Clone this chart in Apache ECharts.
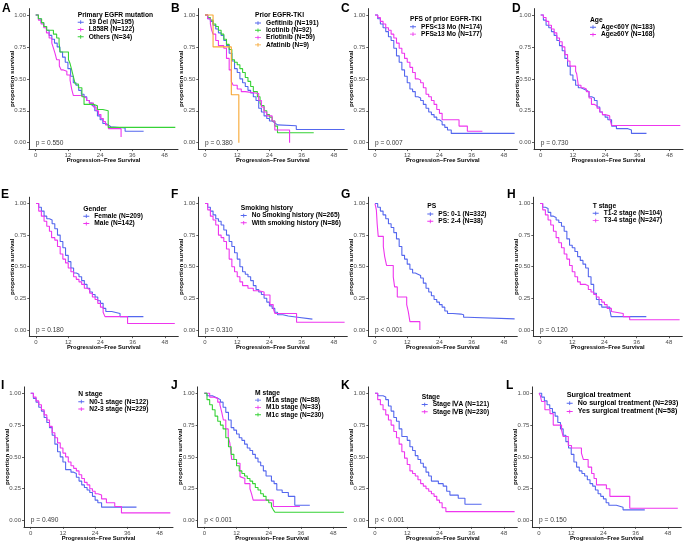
<!DOCTYPE html>
<html><head><meta charset="utf-8">
<script src="https://cdn.jsdelivr.net/npm/echarts@6/dist/echarts.min.js"></script>
<style>html,body{margin:0;padding:0;background:#fff}#c{width:685px;height:543px}</style>
</head><body><div id="c"></div>
<script>
// ---- tick labels ----
const xTicks = [0, 12, 24, 36, 48];
const yTicks = [0, 0.25, 0.5, 0.75, 1];

// ---- curves: [months, proportion surviving] ----
const A_del19 = [[0,1],[1,0.97],[2,0.94],[3,0.91],[4,0.88],[5,0.84],[6,0.81],[7,0.78],[8,0.75],[9,0.71],[10,0.67],[11,0.63],[12,0.58],[13,0.52],[14,0.47],[15,0.45],[16,0.41],[17,0.38],[18,0.36],[19,0.33],[20,0.31],[21,0.29],[22,0.25],[23,0.21],[24,0.18],[25,0.15],[26,0.14],[27,0.125],[28,0.115],[33.3,0.09],[40.2,0.09]];
const A_l858r = [[0,1],[1,0.96],[2,0.93],[3,0.90],[4,0.86],[5,0.82],[6,0.78],[6.6,0.74],[7.2,0.70],[7.8,0.65],[8.8,0.60],[9.5,0.57],[10.3,0.56],[11.6,0.53],[12.8,0.49],[13.4,0.42],[14,0.37],[17.2,0.36],[18,0.35],[19,0.33],[20,0.31],[21.5,0.28],[22.5,0.25],[23.4,0.22],[24.3,0.19],[25.2,0.165],[26,0.14],[27.1,0.11],[31.8,0.045]];
const A_others = [[0,1],[1,0.97],[2.2,0.94],[3,0.91],[4.1,0.88],[6.6,0.85],[7.8,0.82],[8.7,0.78],[9.1,0.71],[12.2,0.65],[12.8,0.62],[13.4,0.57],[14,0.52],[14.7,0.46],[15.9,0.43],[17.2,0.36],[18,0.30],[21.5,0.29],[23,0.26],[25,0.25],[27,0.12],[52,0.12]];

const B_gef = [[0,1],[1,0.97],[2,0.95],[3,0.92],[4,0.89],[5,0.86],[6,0.84],[7,0.80],[8,0.76],[9,0.70],[10,0.64],[11,0.58],[12,0.55],[13,0.50],[14,0.47],[15,0.44],[16,0.41],[17,0.39],[18,0.36],[19,0.33],[20,0.27],[21,0.24],[22,0.21],[23,0.19],[24,0.17],[25,0.155],[26,0.14],[27,0.133],[34,0.104],[52,0.104]];
const B_ico = [[0,1],[1,0.98],[2,0.96],[3,0.93],[4,0.91],[5,0.88],[6,0.85],[7,0.81],[8,0.77],[9,0.73],[10,0.65],[11,0.63],[12,0.61],[13,0.58],[14,0.55],[15,0.51],[16,0.48],[17,0.44],[18,0.40],[19.5,0.36],[20.5,0.31],[21,0.29],[22,0.25],[23,0.22],[24,0.20],[25,0.17],[26,0.13],[27,0.078],[40.5,0.078]];
const B_erl = [[0,1],[1,0.97],[2,0.93],[2.5,0.88],[3,0.85],[4,0.80],[5,0.76],[7,0.74],[8,0.66],[9,0.57],[9.8,0.48],[10.5,0.45],[12,0.42],[13.5,0.40],[15,0.385],[20,0.33],[21,0.28],[22,0.24],[23,0.21],[25,0.17],[26,0.10],[31.5,0]];
const B_afa = [[0,1],[3,0.75],[9.8,0.375],[12.6,0]];

const C_lt13 = [[0,1],[1,0.97],[2,0.93],[3,0.90],[4,0.87],[5,0.83],[6,0.80],[7,0.74],[8,0.68],[9,0.63],[10,0.57],[11,0.52],[12,0.47],[13,0.42],[14,0.40],[15,0.36],[16,0.35],[17,0.33],[18,0.30],[19,0.27],[20,0.24],[21,0.22],[22,0.20],[23,0.18],[24,0.165],[25,0.14],[26,0.12],[27,0.10],[28.4,0.073],[52,0.073]];
const C_ge13 = [[0,1],[1,0.98],[2,0.95],[3,0.93],[4,0.90],[5,0.88],[6,0.85],[7,0.82],[8,0.78],[9,0.74],[10,0.70],[11,0.66],[12,0.63],[13,0.59],[14,0.55],[15,0.50],[16,0.49],[17,0.47],[18,0.43],[19,0.38],[20,0.36],[21,0.33],[22,0.30],[23,0.26],[24,0.23],[25,0.18],[31.3,0.13],[34.4,0.09],[40,0.09]];

const D_lt60 = [[0,1],[1,0.96],[2,0.92],[3,0.90],[4,0.87],[5,0.84],[6,0.80],[7,0.76],[8,0.72],[9,0.66],[10,0.60],[11,0.53],[12,0.49],[13,0.45],[14,0.43],[15,0.42],[16,0.41],[17,0.40],[18,0.36],[19,0.35],[20,0.33],[21,0.28],[22,0.24],[23,0.22],[24,0.20],[25,0.18],[26.4,0.13],[28.2,0.11],[32.5,0.10],[33.8,0.073],[39.4,0.073]];
const D_ge60 = [[0,1],[1,0.98],[2,0.95],[3,0.92],[4,0.89],[5,0.86],[6,0.82],[7,0.79],[8,0.75],[9,0.69],[10,0.64],[10.9,0.60],[13,0.56],[13.4,0.54],[14,0.45],[15,0.43],[16,0.42],[17,0.40],[18,0.35],[18.9,0.30],[20,0.29],[21,0.27],[22,0.24],[23,0.22],[24,0.21],[25.7,0.19],[26.4,0.135],[52,0.135]];

const E_female = [[0,1],[1,0.97],[2,0.94],[3,0.90],[4,0.88],[5,0.87],[6,0.84],[7,0.80],[8,0.75],[9,0.70],[10,0.65],[11,0.59],[12,0.54],[13,0.49],[14,0.45],[15,0.44],[16,0.42],[17,0.39],[18,0.36],[19,0.33],[20,0.30],[21,0.28],[22,0.26],[23,0.23],[24,0.21],[25,0.17],[26,0.145],[28.2,0.13],[31.3,0.105],[40,0.105]];
const E_male = [[0,1],[1,0.94],[2,0.90],[3,0.86],[4,0.82],[5,0.78],[5.8,0.73],[7,0.71],[8,0.66],[9,0.60],[10,0.56],[11,0.53],[12,0.49],[13,0.46],[14,0.42],[15,0.40],[16,0.38],[17,0.36],[18,0.33],[19,0.32],[20,0.29],[21,0.26],[22,0.24],[23,0.21],[24,0.18],[25,0.14],[25.7,0.105],[34.1,0.05],[51.7,0.05]];

const F_no = [[0,1],[1,0.97],[2,0.94],[3,0.91],[4,0.88],[5,0.86],[6,0.83],[7,0.79],[8,0.75],[9,0.70],[10,0.66],[11,0.61],[12,0.56],[13,0.50],[14,0.46],[15,0.44],[16,0.42],[17,0.39],[18,0.35],[19,0.32],[20,0.30],[21,0.28],[22,0.25],[23,0.22],[24,0.19],[25,0.17],[26,0.14],[27,0.12],[29,0.11],[31,0.10],[34.5,0.085],[40,0.085]];
const F_with = [[0,1],[1,0.95],[2,0.90],[3,0.87],[4,0.83],[5,0.75],[6,0.73],[7,0.70],[8,0.64],[9,0.56],[10,0.50],[11,0.46],[12,0.42],[13,0.38],[14,0.35],[16,0.33],[18,0.31],[20,0.30],[22,0.276],[24.2,0.20],[25.4,0.17],[26,0.13],[34.1,0.06],[52,0.06]];

const G_01 = [[0,1],[1,0.97],[2,0.94],[3,0.91],[4,0.88],[5,0.84],[6,0.81],[7,0.77],[8,0.72],[9,0.66],[10,0.59],[11,0.56],[12,0.52],[13,0.48],[14,0.45],[15,0.44],[16,0.43],[17,0.41],[18,0.37],[19,0.33],[20,0.30],[21,0.27],[22,0.24],[23,0.22],[24,0.20],[25,0.18],[26,0.15],[27,0.13],[29,0.125],[32,0.12],[33,0.10],[34.4,0.087],[52,0.087]];
const G_24 = [[0,1],[0.5,0.95],[0.8,0.84],[1.2,0.74],[3.1,0.66],[3.6,0.58],[4.3,0.51],[6.8,0.42],[7.3,0.34],[8.3,0.26],[11.8,0.2],[12.4,0.145],[13,0.065],[16.7,0]];

const H_12 = [[0,1],[1,0.97],[2,0.96],[3,0.93],[4,0.90],[5,0.89],[6,0.87],[7,0.85],[8,0.82],[9,0.78],[10,0.72],[11,0.67],[12,0.65],[13,0.62],[14,0.58],[15,0.55],[16,0.52],[17,0.49],[18,0.42],[19,0.36],[20,0.29],[21,0.24],[22,0.20],[23,0.18],[26,0.16],[26.5,0.105],[39.6,0.105]];
const H_34 = [[0,1],[1,0.95],[2,0.91],[3,0.87],[4,0.83],[5,0.78],[6,0.73],[7,0.69],[8,0.65],[9,0.60],[10,0.56],[11,0.51],[12,0.46],[13,0.42],[14,0.38],[15,0.36],[17,0.35],[18,0.32],[19,0.30],[20,0.28],[21,0.26],[22,0.24],[23,0.22],[24,0.20],[25,0.17],[26.6,0.145],[27.2,0.13],[31,0.105],[33.4,0.08],[52,0.08]];

const I_01 = [[0,1],[1,0.96],[2,0.93],[3,0.89],[4,0.86],[5,0.81],[6,0.77],[7,0.73],[8,0.67],[9,0.60],[10,0.54],[11,0.50],[12,0.46],[13,0.40],[15,0.38],[16,0.37],[17,0.34],[18,0.31],[19,0.28],[20,0.26],[21,0.24],[22,0.22],[23,0.19],[24,0.16],[25,0.14],[26.4,0.105],[39.4,0.105]];
const I_23 = [[0,1],[1,0.97],[2,0.94],[3,0.91],[4,0.87],[5,0.83],[6,0.79],[7,0.74],[8,0.69],[9,0.65],[10,0.61],[11,0.57],[12,0.53],[13,0.50],[14,0.46],[15,0.43],[16,0.41],[17,0.39],[18,0.36],[19,0.33],[20,0.30],[21,0.28],[22,0.25],[23,0.23],[24,0.21],[25,0.20],[26.4,0.17],[28.2,0.14],[31.3,0.11],[33.8,0.06],[52,0.06]];

const J_1a = [[0,1],[1,0.98],[3,0.97],[4,0.96],[5,0.95],[6,0.93],[7,0.89],[8,0.85],[9,0.79],[10,0.73],[11,0.71],[12,0.68],[13,0.65],[14,0.63],[15,0.60],[16,0.57],[17,0.55],[18,0.52],[19,0.49],[20,0.46],[21,0.43],[22,0.39],[23,0.35],[25,0.31],[26,0.29],[27,0.24],[29,0.22],[31.3,0.19],[33.7,0.12],[39.3,0.12]];
const J_1b = [[0,1],[2,0.97],[3.3,0.96],[5,0.93],[5.8,0.91],[6.5,0.85],[7.1,0.79],[8,0.72],[8.9,0.66],[9.5,0.61],[10.2,0.48],[12,0.45],[13.3,0.345],[14,0.33],[15.1,0.29],[17,0.25],[17.6,0.21],[18.2,0.16],[25.7,0.11],[35.6,0.11]];
const J_1c = [[0,1],[1,0.95],[2,0.91],[3,0.87],[4,0.82],[5,0.78],[6,0.75],[7,0.72],[8,0.65],[9,0.58],[10,0.52],[11,0.48],[12,0.43],[13,0.39],[14,0.37],[15,0.35],[16,0.33],[17,0.31],[18,0.29],[19,0.26],[20,0.24],[21,0.21],[22,0.19],[23,0.16],[24,0.14],[25,0.11],[25.7,0.084],[26.3,0.065],[52,0.065]];

const K_a = [[0,1],[1,0.98],[3,0.97],[4,0.95],[5,0.90],[6,0.86],[7,0.81],[8,0.78],[9,0.72],[10,0.66],[12,0.63],[13,0.58],[14,0.55],[15,0.51],[16,0.48],[17,0.45],[18,0.42],[19,0.38],[20,0.35],[21,0.31],[23.6,0.29],[25.4,0.27],[26.7,0.23],[27.9,0.20],[31,0.175],[33.5,0.128],[39.7,0.128]];
const K_b = [[0,1],[1,0.95],[2,0.91],[3,0.87],[4,0.83],[5,0.79],[6,0.75],[7,0.70],[8,0.65],[9,0.60],[10,0.54],[11,0.49],[12,0.44],[13,0.39],[14,0.37],[15,0.35],[16,0.32],[17,0.29],[18,0.27],[19,0.25],[20,0.23],[21,0.21],[22,0.19],[23,0.16],[24,0.14],[25,0.10],[26.4,0.07],[52,0.07]];

const L_no = [[0,1],[1,0.97],[2,0.94],[3,0.91],[4,0.88],[5,0.85],[6,0.82],[7,0.77],[8,0.72],[9,0.67],[10,0.62],[11,0.57],[12,0.52],[13,0.46],[14,0.42],[15,0.39],[16,0.37],[17,0.35],[18,0.32],[19,0.29],[20,0.27],[21,0.24],[22,0.21],[23,0.19],[24,0.17],[25,0.14],[26,0.12],[28.8,0.105],[31.3,0.084],[39.4,0.084]];
const L_yes = [[0,1],[0.5,0.98],[1,0.935],[2.2,0.87],[4.1,0.84],[5.3,0.75],[8.4,0.71],[9,0.66],[10.9,0.59],[12.1,0.57],[15.8,0.53],[16.5,0.48],[18.3,0.42],[19.6,0.37],[20.5,0.33],[21.4,0.28],[25.1,0.25],[26.4,0.19],[33.8,0.097],[51.7,0.097]];

// ---- texts ----
const panelLetters = ['A','B','C','D','E','F','G','H','I','J','K','L'];
const legendTitles = ['Primary EGFR mutation','Prior EGFR-TKI','PFS of prior EGFR-TKI','Age','Gender','Smoking history','PS','T stage','N stage','M stage','Stage','Surgical treatment'];
const groupNames = [
  ['19 Del (N=195)','L858R (N=122)','Others (N=34)'],
  ['Gefitinib (N=191)','Icotinib (N=92)','Erlotinib (N=59)','Afatinib (N=9)'],
  ['PFS<13 Mo (N=174)','PFS\u226513 Mo (N=177)'],
  ['Age<60Y (N=183)','Age\u226560Y (N=168)'],
  ['Female (N=209)','Male (N=142)'],
  ['No Smoking history (N=265)','With smoking history (N=86)'],
  ['PS: 0-1 (N=332)','PS: 2-4 (N=38)'],
  ['T1-2 stage (N=104)','T3-4 stage (N=247)'],
  ['N0-1 stage (N=122)','N2-3 stage (N=229)'],
  ['M1a stage (N=88)','M1b stage (N=33)','M1c stage (N=230)'],
  ['Stage \u2163A (N=121)','Stage \u2163B (N=230)'],
  ['No surgical treatment (N=293)','Yes surgical treatment (N=58)']
];
const pValues = ['p = 0.550','p = 0.380','p = 0.007','p = 0.730','p = 0.180','p = 0.310','p < 0.001','p = 0.120','p = 0.490','p < 0.001','p <  0.001','p = 0.150'];
const curves = [
  [A_del19, A_l858r, A_others],
  [B_gef, B_ico, B_erl, B_afa],
  [C_lt13, C_ge13],
  [D_lt60, D_ge60],
  [E_female, E_male],
  [F_no, F_with],
  [G_01, G_24],
  [H_12, H_34],
  [I_01, I_23],
  [J_1a, J_1b, J_1c],
  [K_a, K_b],
  [L_no, L_yes]
];

// ---- styling / layout ----
const BLUE = '#5467EE', MAG = '#EE36EE', GREEN = '#36D236', ORANGE = '#F7A733';
const colorSets = [
  [BLUE, MAG, GREEN], [BLUE, GREEN, MAG, ORANGE], [BLUE, MAG], [BLUE, MAG],
  [BLUE, MAG], [BLUE, MAG], [BLUE, MAG], [BLUE, MAG],
  [BLUE, MAG], [BLUE, MAG, GREEN], [BLUE, MAG], [BLUE, MAG]
];
const FONT = '"Liberation Sans", Arial, sans-serif';
const gridLefts = [29.0,198.3,368.3,534.0, 29.3,198.3,368.3,533.3, 24.0,197.6,368.3,532.3];
const rowTops = [8.6, 197.2, 386.9];
const rowHeights = [140.5, 139, 140];
const GW = 149;
// legend: [left, titleCenterY, firstItemCenterY]
const legendPos = [
  [77.7,15,21.7],[255,15,22.5],[410,19.3,26.3],[590,20,26.7],
  [83.3,209.3,215.7],[240.7,208.3,215],[427.3,206.7,213.5],[592.7,206.7,212.8],
  [78.3,394.3,401.2],[255,393.3,399.6],[421.7,397.7,404],[566.7,395,402.7]
];
const letterPos = [[2,3],[171,3],[341,3],[512,3],[1,189],[171,189],[341,189],[507,189],[1,380],[171,380],[341,380],[506,380]];

const ICON = 'path://M0,3.8H16V6.2H0Z M6.8,0H9.2V10H6.8Z';

const grid = [], xAxis = [], yAxis = [], series = [], legend = [], graphic = [];
for (let i = 0; i < 12; i++) {
  const row = Math.floor(i / 4);
  grid.push({left: gridLefts[i], top: rowTops[row], width: GW, height: rowHeights[row], containLabel: false});
  xAxis.push({
    type: 'value', gridIndex: i, min: -2.5, max: 53,
    name: 'Progression\u2212Free Survival', nameLocation: 'middle', nameGap: 8.5, nameMoveOverlap: false,
    nameTextStyle: {fontFamily: FONT, fontWeight: 'bold', fontSize: 5.8, color: '#000'},
    axisLine: {show: true, onZero: false, lineStyle: {color: '#333', width: 1}},
    axisTick: {show: true, length: 2, lineStyle: {color: '#333', width: 0.8}, customValues: xTicks},
    axisLabel: {fontFamily: FONT, fontSize: 6, color: '#4D4D4D', margin: 3, customValues: xTicks},
    splitLine: {show: false}
  });
  yAxis.push({
    type: 'value', gridIndex: i, min: -0.05, max: 1.05,
    name: 'proportion survival', nameLocation: 'middle', nameGap: 14, nameMoveOverlap: false,
    nameTextStyle: {fontFamily: FONT, fontWeight: 'bold', fontSize: 6.2, color: '#000'},
    axisLine: {show: true, onZero: false, lineStyle: {color: '#333', width: 1}},
    axisTick: {show: true, length: 2, lineStyle: {color: '#333', width: 0.8}, customValues: yTicks},
    axisLabel: {fontFamily: FONT, fontSize: 6, color: '#4D4D4D', margin: 3, customValues: yTicks,
      formatter: v => v.toFixed(2)},
    splitLine: {show: false}
  });
  curves[i].forEach((d, k) => {
    series.push({
      type: 'line', name: groupNames[i][k], xAxisIndex: i, yAxisIndex: i,
      data: d, step: 'end', symbol: 'none', showSymbol: false, silent: true,
      lineStyle: {width: 1.1, color: colorSets[i][k]}, itemStyle: {color: colorSets[i][k]},
      animation: false
    });
  });
  series.push({
    type: 'scatter', xAxisIndex: i, yAxisIndex: i, data: [[0, 0]], symbolSize: 0, silent: true,
    animation: false,
    label: {show: true, position: 'right', distance: 0, formatter: pValues[i],
      fontFamily: FONT, fontSize: 6.6, color: '#000'}
  });
  const lp = legendPos[i];
  const big = i === 11;
  const lh = big ? 7.3 : 6.3;
  legend.push({
    orient: 'vertical', left: lp[0], top: lp[2] - 3, padding: 0,
    itemWidth: 6, itemHeight: 5, itemGap: lh - 6, icon: ICON,
    itemStyle: {color: 'inherit', borderWidth: 0},
    selectedMode: false,
    data: groupNames[i],
    textStyle: {fontFamily: FONT, fontWeight: 'bold', fontSize: big ? 7.1 : 6.6, lineHeight: 6, color: '#000'}
  });
  graphic.push({
    type: 'text', left: lp[0], top: lp[1] - (big ? 4 : 3.6),
    style: {text: legendTitles[i], font: `bold ${big ? 7.3 : 6.7}px ${FONT}`, fill: '#000'}
  });
  graphic.push({
    type: 'text', left: letterPos[i][0], top: letterPos[i][1],
    style: {text: panelLetters[i], font: `bold 12px ${FONT}`, fill: '#000'}
  });
}

const chart = echarts.init(document.getElementById('c'), null, {renderer: 'canvas'});
chart.setOption({
  backgroundColor: '#fff',
  animation: false,
  grid, xAxis, yAxis, series, legend, graphic
});
</script>
</body></html>
